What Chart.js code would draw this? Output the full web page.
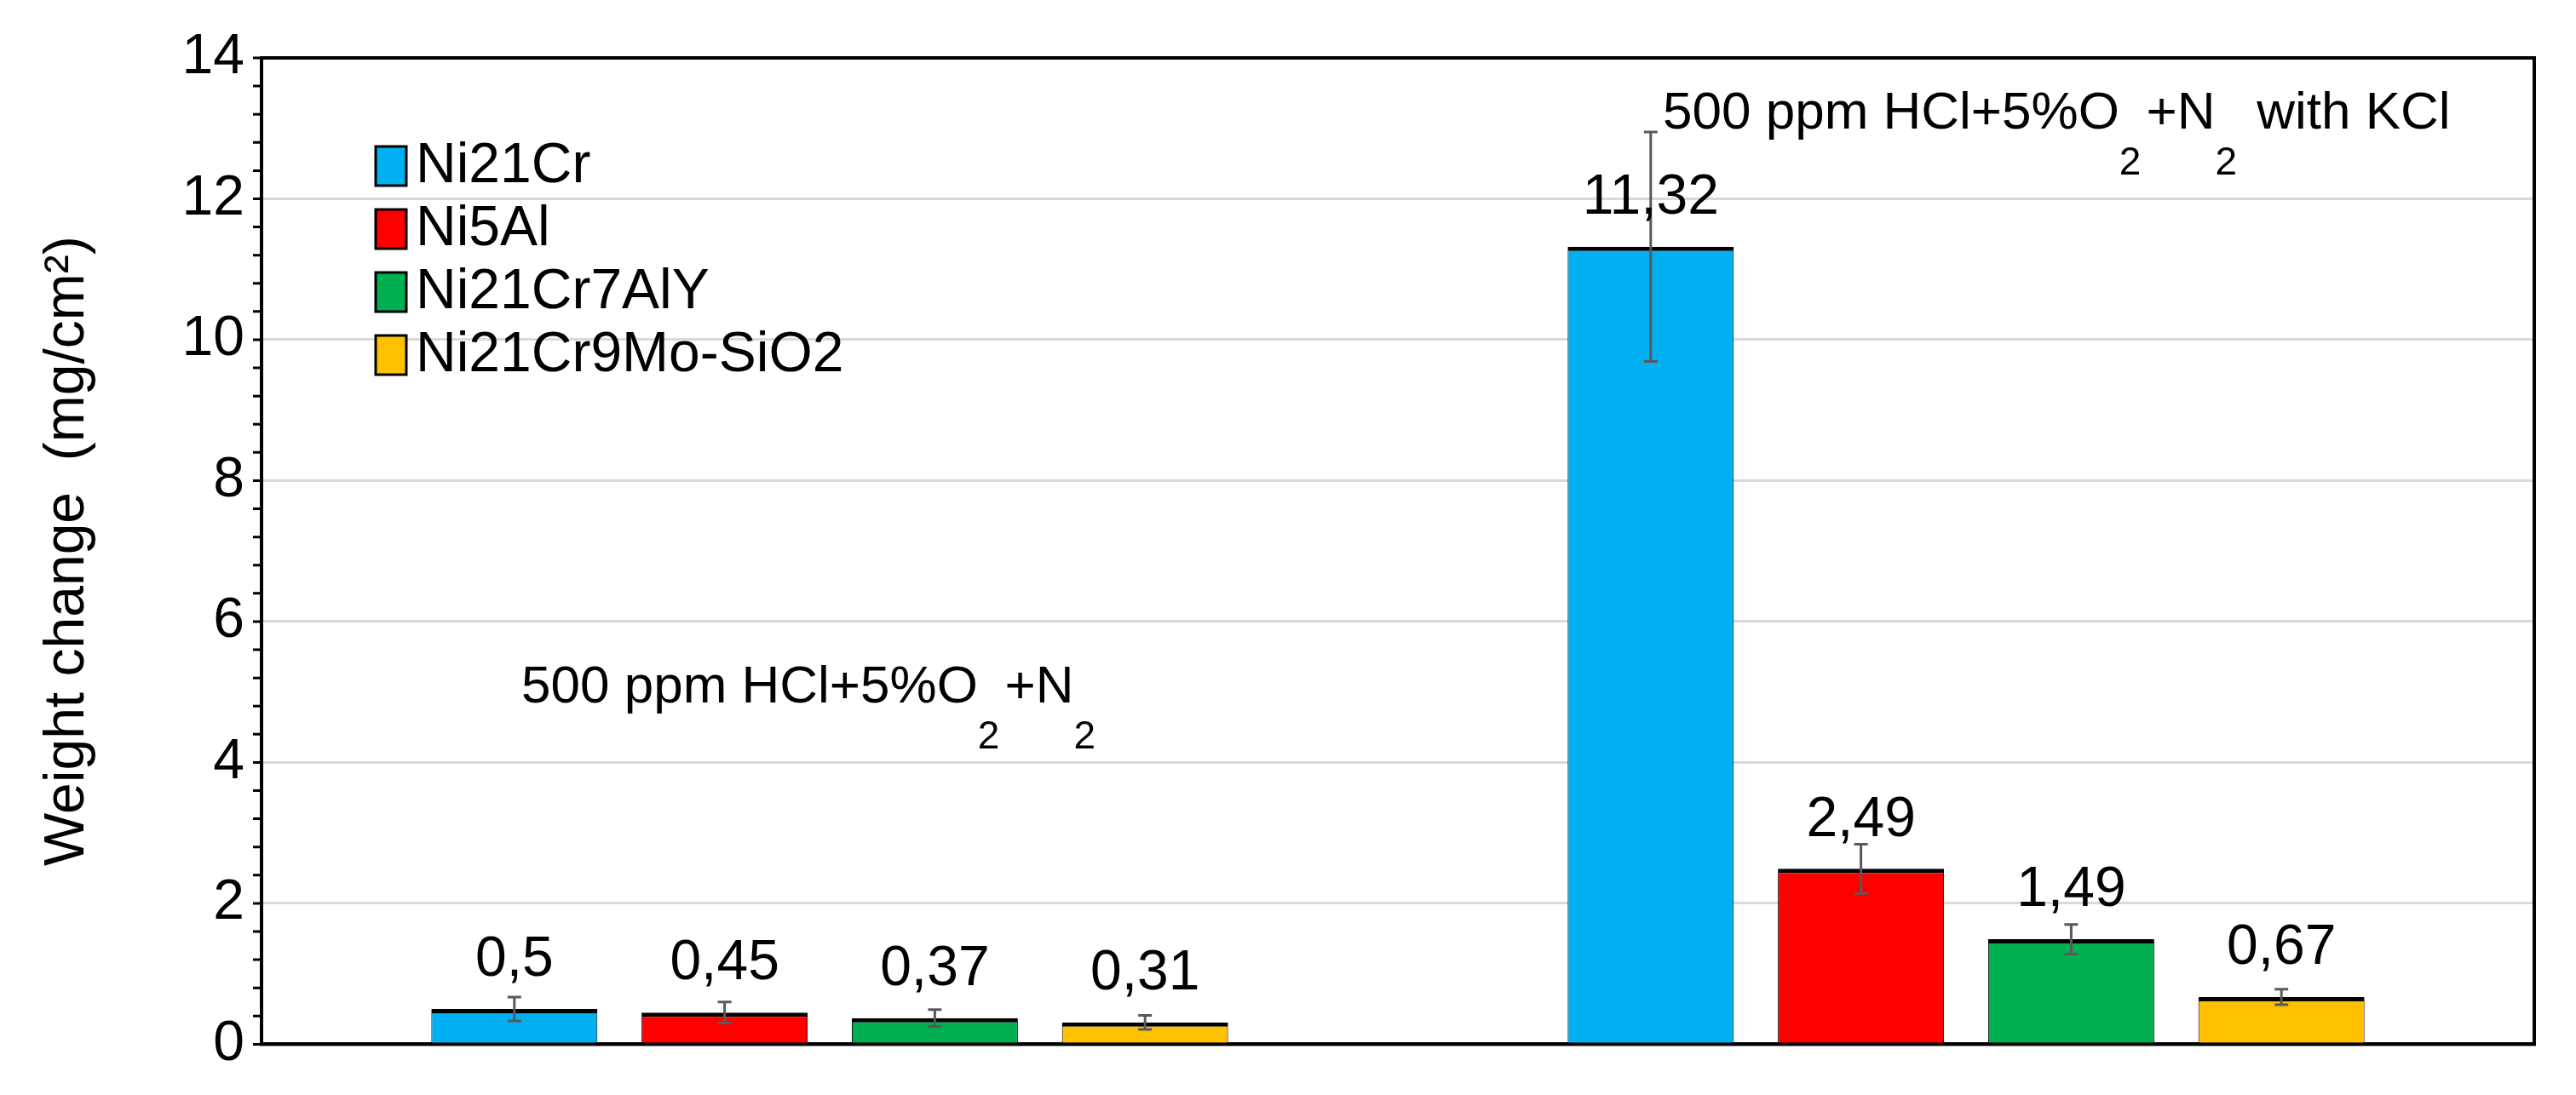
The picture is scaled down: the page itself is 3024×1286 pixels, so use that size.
<!DOCTYPE html>
<html>
<head>
<meta charset="utf-8">
<script src="https://cdn.jsdelivr.net/npm/chart.js@4"></script>
<style>
  html, body { margin: 0; padding: 0; background: #fff; }
  #wrap { width: 3024px; height: 1286px; }
</style>
</head>
<body>
<div id="wrap"><canvas id="chart" width="3024" height="1286"></canvas></div>
<script>
const categories = ["500 ppm HCl+5%O2+N2", "500 ppm HCl+5%O2+N2 with KCl"];
const seriesNames = ["Ni21Cr", "Ni5Al", "Ni21Cr7AlY", "Ni21Cr9Mo-SiO2"];
const seriesColors = ["#00b0f0", "#ff0000", "#00b050", "#ffc000"];
const ni21cr = [0.5, 11.32];
const ni5al = [0.45, 2.49];
const ni21cr7aly = [0.37, 1.49];
const ni21cr9mo = [0.31, 0.67];
const errNi21cr = [0.17, 1.63];
const errNi5al = [0.15, 0.35];
const errNi21cr7aly = [0.12, 0.21];
const errNi21cr9mo = [0.10, 0.11];
const yTicks = [0, 2, 4, 6, 8, 10, 12, 14];

const allValues = [ni21cr, ni5al, ni21cr7aly, ni21cr9mo];
const allErrors = [errNi21cr, errNi5al, errNi21cr7aly, errNi21cr9mo];
const FONT = "'Liberation Sans', Arial, sans-serif";

// error bars, value labels, minor ticks, box, legend, group notes
const extras = {
  id: 'extras',
  afterDatasetsDraw(chart) {
    const ctx = chart.ctx;
    const y = chart.scales.y;
    const a = chart.chartArea;
    ctx.save();
    chart.data.datasets.forEach((ds, di) => {
      const meta = chart.getDatasetMeta(di);
      meta.data.forEach((bar, i) => {
        const v = ds.data[i];
        const e = allErrors[di][i];
        const yt = y.getPixelForValue(v + e), yb = y.getPixelForValue(v - e);
        ctx.strokeStyle = '#595959';
        ctx.lineWidth = 3;
        ctx.beginPath();
        ctx.moveTo(bar.x, yt); ctx.lineTo(bar.x, yb);
        ctx.moveTo(bar.x - 8, yt); ctx.lineTo(bar.x + 8, yt);
        ctx.moveTo(bar.x - 8, yb); ctx.lineTo(bar.x + 8, yb);
        ctx.stroke();
        ctx.fillStyle = '#000';
        ctx.font = '66px ' + FONT;
        ctx.textAlign = 'center';
        ctx.textBaseline = 'bottom';
        ctx.fillText(String(v).replace('.', ','), bar.x, bar.y - 24);
      });
    });
    // minor ticks
    ctx.strokeStyle = '#000';
    ctx.lineWidth = 3;
    ctx.beginPath();
    for (let k = 0; k <= 35; k++) {
      const py = y.getPixelForValue(k * 0.4);
      ctx.moveTo(a.left - 10, py); ctx.lineTo(a.left, py);
    }
    ctx.stroke();
    // box
    ctx.lineWidth = 4;
    ctx.strokeRect(a.left, a.top, a.right - a.left, a.bottom - a.top);
    // legend
    ctx.font = '66px ' + FONT;
    ctx.textAlign = 'left';
    ctx.textBaseline = 'middle';
    seriesNames.forEach((n, i) => {
      const ly = 196 + i * 74;
      ctx.fillStyle = seriesColors[i];
      ctx.fillRect(441, ly - 24, 36, 46);
      ctx.strokeStyle = '#000';
      ctx.lineWidth = 3;
      ctx.strokeRect(441, ly - 24, 36, 46);
      ctx.fillStyle = '#000';
      ctx.fillText(n, 488, ly);
    });
    // group notes with subscripts
    const note = (px, py, withKcl) => {
      const parts = [['500 ppm HCl+5%O', 0], ['2', 1], ['+N', 0], ['2', 1]];
      if (withKcl) parts.push([' with KCl', 0]);
      let cx = px;
      ctx.textAlign = 'left';
      ctx.textBaseline = 'alphabetic';
      parts.forEach(([t, sub]) => {
        ctx.font = (sub ? '46px ' : '62px ') + FONT;
        ctx.fillText(t, cx, sub ? py + 54 : py);
        cx += ctx.measureText(t).width + (sub ? 6 : 0);
      });
    };
    ctx.fillStyle = '#000';
    note(612, y.getPixelForValue(4.85), false);
    note(1952, y.getPixelForValue(13.0), true);
    ctx.restore();
  }
};

new Chart(document.getElementById('chart'), {
  type: 'bar',
  data: {
    labels: categories,
    datasets: seriesNames.map((n, i) => ({
      label: n,
      data: allValues[i],
      backgroundColor: seriesColors[i],
      borderColor: '#000',
      borderWidth: { top: 5, left: 1, right: 1, bottom: 0 },
      borderSkipped: false,
      categoryPercentage: 0.74,
      barPercentage: 0.79
    }))
  },
  options: {
    responsive: false,
    animation: false,
    devicePixelRatio: 1,
    layout: { padding: { top: 68, right: 49, left: 0, bottom: 0 } },
    plugins: { legend: { display: false }, tooltip: { enabled: false } },
    scales: {
      x: {
        ticks: { display: false },
        grid: { display: false },
        border: { color: '#000', width: 4 },
        afterFit(s) { s.height = 30; }
      },
      y: {
        min: 0, max: 14,
        afterBuildTicks(s) { s.ticks = yTicks.map(v => ({ value: v })); },
        ticks: { font: { size: 66, family: FONT }, color: '#000', padding: 20 },
        grid: { color: '#d9d9d9', lineWidth: 3, drawTicks: false },
        border: { color: '#000', width: 4 },
        title: { display: true, text: 'Weight change  (mg/cm²)', font: { size: 66, family: FONT }, color: '#000', padding: { top: 40, bottom: 0 } },
        afterFit(s) { s.width = 307; }
      }
    }
  },
  plugins: [extras]
});
</script>
</body>
</html>
